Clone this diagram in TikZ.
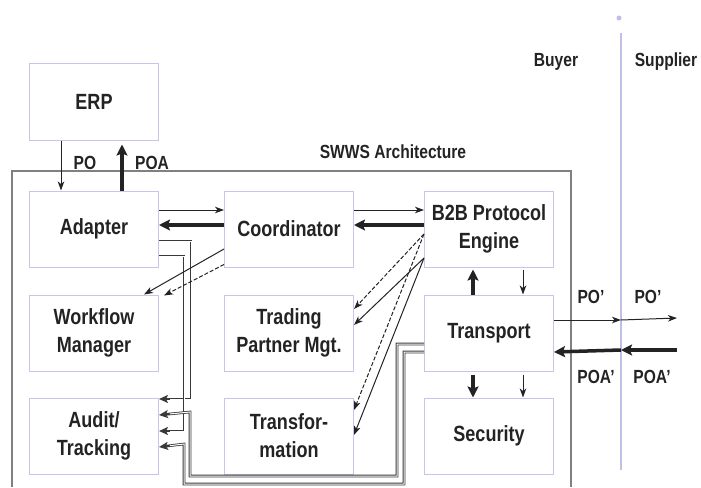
\documentclass[tikz,border=0pt]{standalone}
\usepackage{fontspec}
\setmainfont[FakeStretch=0.82]{Liberation Sans}
\usetikzlibrary{arrows.meta, positioning}
\definecolor{boxline}{RGB}{198,198,236}
\definecolor{frameline}{RGB}{128,128,128}
\definecolor{partyline}{RGB}{192,192,230}
\definecolor{inkdark}{RGB}{35,35,35}

\begin{document}
\begin{tikzpicture}[
  x=1pt, y=-1pt,
  node distance=27pt and 65pt,
  box/.style={
    rectangle, minimum width=129pt, minimum height=76pt,
    draw=boxline, line width=1pt, align=center, text=inkdark,
    font=\fontsize{22}{28}\selectfont\bfseries
  },
  lbl/.style={inner sep=0pt, text=inkdark, font=\fontsize{19}{22}\selectfont\bfseries},
  arrow/.style={-{Stealth[length=9pt, width=6.5pt, inset=2.5pt]}, line width=1pt, draw=inkdark},
  thickarrow/.style={-{Stealth[length=11pt, width=11pt, inset=2pt]}, line width=3.5pt, draw=inkdark},
  dasharrow/.style={arrow, dash pattern=on 4pt off 2pt},
  dblarrow/.style={
    -{Stealth[length=9pt, width=8pt, inset=2pt]}, line width=2.6pt, draw=inkdark!90,
    postaction={draw=white, line width=1pt, -, shorten >=11pt}
  }
]
\useasboundingbox (0,0) rectangle (701,487);

% ── Frame and parties ──
\draw[frameline, line width=1.2pt] (12,487) |- (571,171) -- (571,487);
\node[lbl] (swws) at (393,152) {SWWS Architecture};
\fill[partyline] (619,18) circle (2.5pt);
\coordinate (divtop) at (621,33);
\coordinate (divbot) at (621,470);
\draw[partyline, line width=2pt] (divtop) -- (divbot);
\node[lbl] (buyer) at (556,62) {Buyer};
\node[lbl] (supplier) at (666,62) {Supplier};

% ── Components ──
\node[box] (erp) at (94,102) {ERP};
\node[box, below=50pt of erp] (adapter) {Adapter};
\node[box, right=65pt of adapter] (coord) {Coordinator};
\node[box, right=70pt of coord] (b2b) {B2B Protocol\\Engine};
\node[box, below=of adapter] (workflow) {Workflow\\Manager};
\node[box, below=of coord] (tpm) {Trading\\Partner Mgt.};
\node[box, below=of b2b] (transport) {Transport};
\node[box, below=26pt of workflow] (audit) {Audit/\\Tracking};
\node[box, below=26pt of tpm] (transform) {Transfor-\\mation};
\node[box, below=26pt of transport] (security) {Security};

% ── Logging lines to Audit ──
\draw[dblarrow] ([yshift=-12pt]adapter.east) -- ++(32pt,0) |- ([yshift=37pt]audit.east);
\draw[dblarrow] ([yshift=-27pt]adapter.east) -- ++(25pt,0) |- ([yshift=5pt]audit.east);
\draw[dblarrow] ([yshift=-11pt]transport.west) -| (397,476) -| (190,412) -- ([yshift=21pt]audit.east);
\draw[dblarrow] ([yshift=-19pt]transport.west) -| (404,484) -| (184,444) -- ([yshift=-11pt]audit.east);

% ── ERP <-> Adapter ──
\draw[arrow] ([xshift=-33pt]erp.south) -- ([xshift=-33pt]adapter.north);
\draw[thickarrow] ([xshift=28pt]adapter.north) -- ([xshift=28pt, yshift=-4pt]erp.south);
\node[lbl] (polbl) at (85,163) {PO};
\node[lbl] (poalbl) at (152,163) {POA};

% ── Adapter <-> Coordinator <-> B2B ──
\draw[arrow] ([yshift=19pt]adapter.east) -- ([yshift=19pt]coord.west);
\draw[thickarrow] ([yshift=4pt]coord.west) -- ([yshift=4pt]adapter.east);
\draw[arrow] ([yshift=19pt]coord.east) -- ([yshift=19pt]b2b.west);
\draw[thickarrow] ([yshift=4pt]b2b.west) -- ([yshift=4pt]coord.east);

% ── Coordinator to Workflow ──
\draw[arrow] ([yshift=-20pt]coord.west) -- ([xshift=-15pt]workflow.north east);
\draw[dasharrow] ([yshift=3pt]coord.south west) -- ([xshift=5pt, yshift=-1pt]workflow.north east);

% ── B2B to Trading Partner / Transformation ──
\draw[dasharrow] ([yshift=-5pt]b2b.west) -- ([yshift=24pt]tpm.east);
\draw[arrow] ([yshift=-29pt]b2b.west) -- ([yshift=8pt]tpm.east);
\draw[dasharrow] ([yshift=-5pt]b2b.west) -- ([yshift=26pt]transform.east);
\draw[arrow] ([yshift=-29pt]b2b.west) -- ([yshift=1pt]transform.east);

% ── B2B <-> Transport <-> Security ──
\draw[thickarrow] ([xshift=-16pt]transport.north) -- ([xshift=-16pt, yshift=-2pt]b2b.south);
\draw[arrow] ([xshift=34pt, yshift=-2pt]b2b.south) -- ([xshift=34pt]transport.north);
\draw[thickarrow] ([xshift=-16pt, yshift=-3pt]transport.south) -- ([xshift=-16pt]security.north);
\draw[arrow] ([xshift=34pt, yshift=-3pt]transport.south) -- ([xshift=34pt]security.north);

% ── Transport <-> Supplier ──
\coordinate (poout) at (677,318);
\coordinate (poain) at (677,350);
\draw[arrow] ([yshift=13pt]transport.east) -- ([yshift=13pt]transport.east -| divtop);
\draw[arrow] ([yshift=13pt]transport.east -| divtop) -- (poout);
\draw[thickarrow] (poain) -- (poain -| divtop);
\draw[thickarrow] (poain -| divtop) -- ([yshift=-19pt]transport.east);
\node[lbl] (pobuy) at (591,297) {PO'};
\node[lbl] (posup) at (648,297) {PO'};
\node[lbl] (poabuy) at (596,377) {POA'};
\node[lbl] (poasup) at (652,377) {POA'};

\end{tikzpicture}
\end{document}
